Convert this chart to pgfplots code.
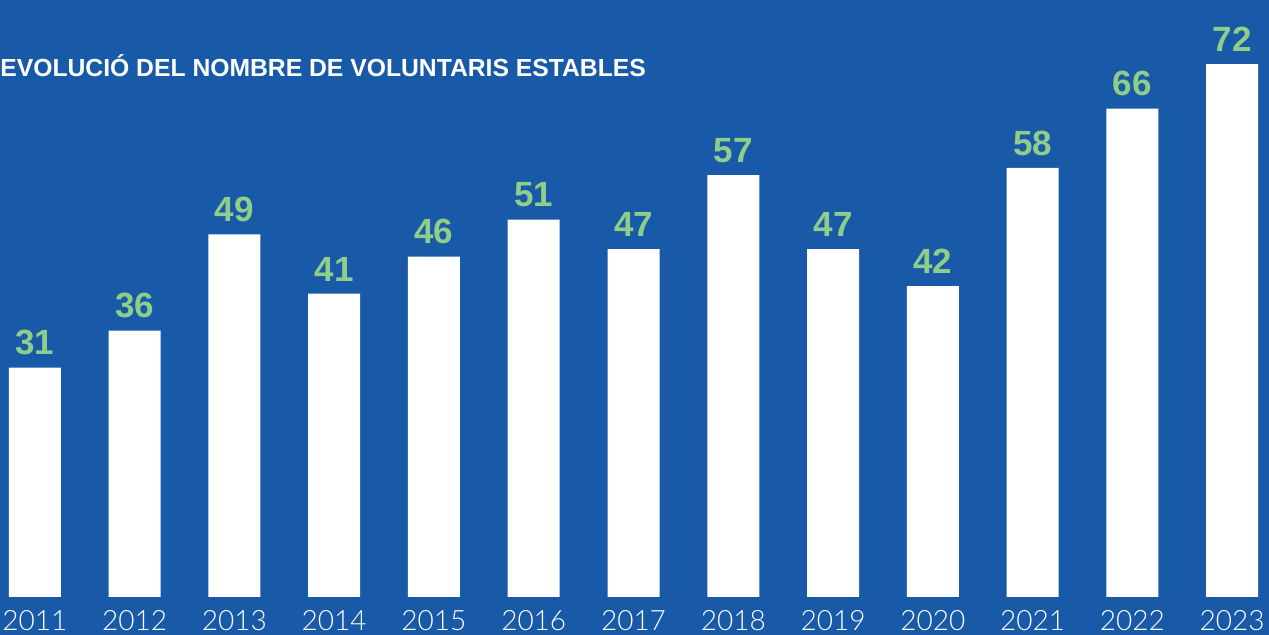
\documentclass[border=0pt]{standalone}
\usepackage{pgfplots}
\pgfplotsset{compat=1.18}
\usepackage{fontspec}
\setmainfont{Liberation Sans}
\newfontfamily\yearfont{Lato Light}
\definecolor{bg}{HTML}{195AA8}
\definecolor{lbl}{HTML}{8FCE8A}
\begin{document}
\begin{tikzpicture}
\begin{axis}[
 scale only axis, width=634.5pt, height=317.5pt,
 xmin=-0.35, xmax=12.37, ymin=-5.135, ymax=80.68,
 axis background/.style={fill=bg},
 axis line style={draw=none},
 ybar, bar width=26pt,
 xtick=data,
 xticklabels={2011,2012,2013,2014,2015,2016,2017,2018,2019,2020,2021,2022,2023},
 ytick=\empty,
 major tick length=0pt,
 xticklabel style={anchor=base, yshift=2pt, font=\yearfont\fontsize{14}{15}\selectfont, text=white, inner sep=0pt},
 nodes near coords,
 /pgf/number format/assume math mode=true,
 every node near coord/.append style={font=\bfseries\fontsize{17.5}{18}\selectfont, text=lbl, anchor=south, inner sep=0pt, yshift=6pt},
 clip=false,
]
\addplot[fill=white, draw=none] coordinates {(0,31) (1,36) (2,49) (3,41) (4,46) (5,51) (6,47) (7,57) (8,47) (9,42) (10,58) (11,66) (12,72)};
\node[anchor=base west, inner sep=0pt, text=white, font=\bfseries\fontsize{12.35}{13}\selectfont] at (axis cs:-0.35,70.4) {EVOLUCIÓ DEL NOMBRE DE VOLUNTARIS ESTABLES};
\end{axis}
\pgfresetboundingbox
\path (current axis.south west) rectangle (current axis.north east);
\end{tikzpicture}
\end{document}
